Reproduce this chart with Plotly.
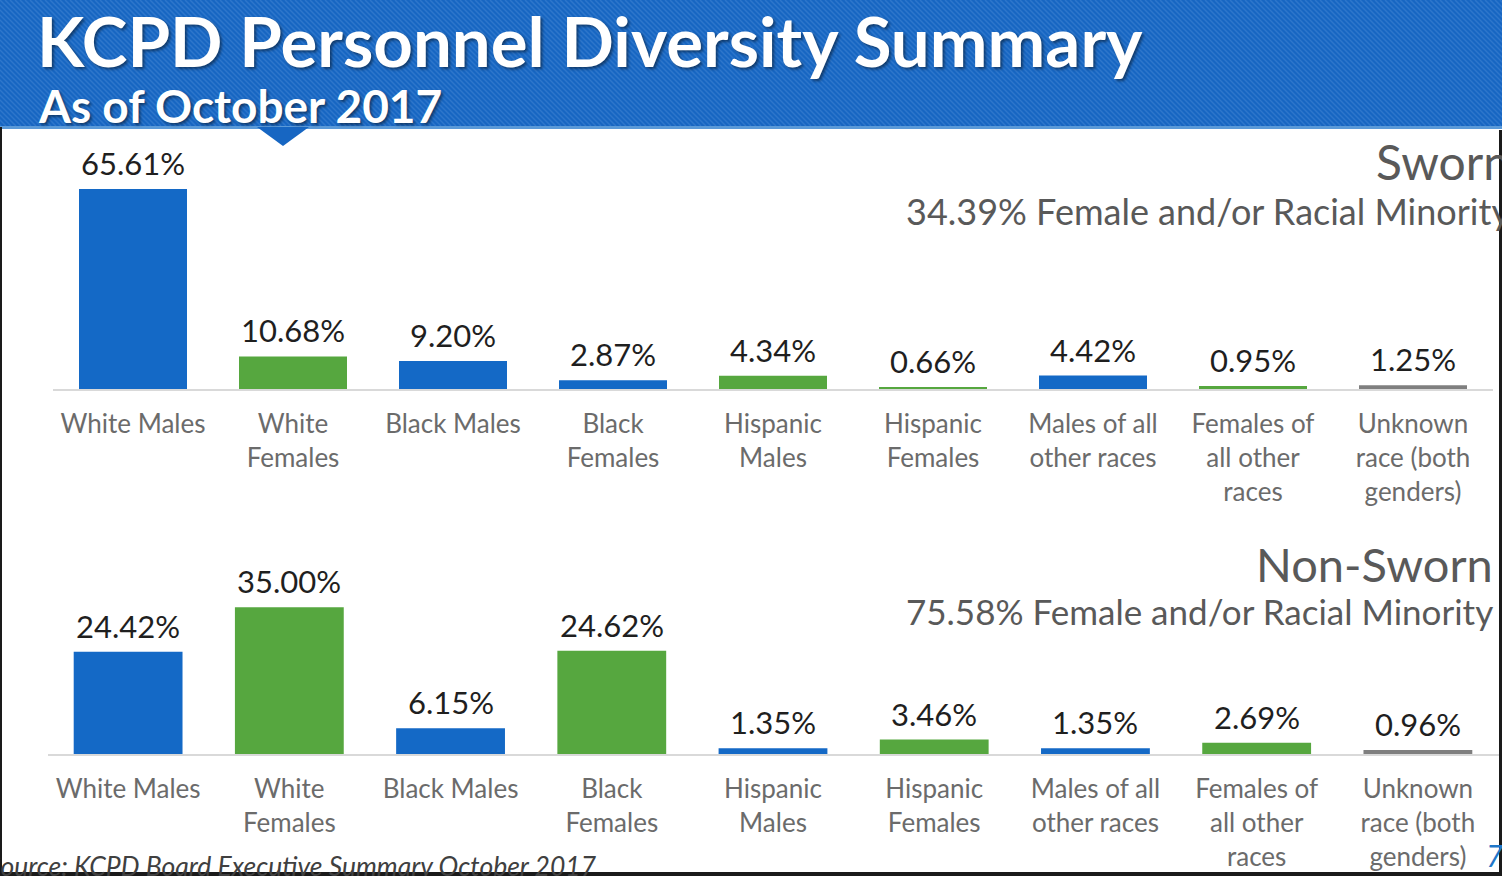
import plotly.graph_objects as go

W, H = 1502, 876

categories = ["White Males", "White<br>Females", "Black Males", "Black<br>Females",
              "Hispanic<br>Males", "Hispanic<br>Females", "Males of all<br>other races",
              "Females of<br>all other<br>races", "Unknown<br>race (both<br>genders)"]
sworn_values = [65.61, 10.68, 9.20, 2.87, 4.34, 0.66, 4.42, 0.95, 1.25]
nonsworn_values = [24.42, 35.00, 6.15, 24.62, 1.35, 3.46, 1.35, 2.69, 0.96]

sworn_title = "Sworn"
sworn_sub = "34.39% Female and/or Racial Minority"
nonsworn_title = "Non-Sworn"
nonsworn_sub = "75.58% Female and/or Racial Minority"

BLUE = "#1469c6"
GREEN = "#56a73f"
GRAY = "#7f7f7f"
sworn_colors = [BLUE, GREEN, BLUE, BLUE, GREEN, GREEN, BLUE, GREEN, GRAY]
nonsworn_colors = [BLUE, GREEN, BLUE, GREEN, BLUE, GREEN, BLUE, GREEN, GRAY]

FONT = "Lato"


def px(x):
    return x / W


def py(y):
    return 1 - y / H


fig = go.Figure()
fig.add_trace(go.Bar(x=categories, y=sworn_values, marker=dict(color=sworn_colors, line=dict(width=0)),
                     xaxis="x", yaxis="y", hoverinfo="x+y"))
fig.add_trace(go.Bar(x=categories, y=nonsworn_values, marker=dict(color=nonsworn_colors, line=dict(width=0)),
                     xaxis="x2", yaxis="y2", hoverinfo="x+y"))

axis_common = dict(showgrid=False, zeroline=False, ticks="", showline=True,
                   linecolor="#d9d9d9", linewidth=2, tickangle=0, range=[-0.5, 8.5],
                   type="category",
                   tickfont=dict(family=FONT, size=26, color="#6b6b6b"))

fig.update_layout(
    width=W, height=H, margin=dict(l=0, r=0, t=0, b=0),
    paper_bgcolor="white", plot_bgcolor="rgba(0,0,0,0)",
    showlegend=False, bargap=0.325,
    xaxis=dict(domain=[px(53), px(1493)], anchor="y", ticklabelstandoff=11, **axis_common),
    yaxis=dict(domain=[py(389), py(150)], range=[0, 239 / 3.05], visible=False, anchor="x"),
    xaxis2=dict(domain=[px(47.5), px(1498.5)], anchor="y2", ticklabelstandoff=11, **axis_common),
    yaxis2=dict(domain=[py(754), py(560)], range=[0, 194 / 4.19], visible=False, anchor="x2"),
)

shapes = []
shapes.append(dict(type="rect", xref="paper", yref="paper", x0=0, x1=1, y0=py(126), y1=1,
                   fillcolor="#1766c2", line=dict(width=0), layer="below"))
path = ""
for x in range(-130, W + 10, 5):
    path += f"M{px(x):.5f},{py(0):.5f} L{px(x + 126):.5f},{py(126):.5f} "
shapes.append(dict(type="path", xref="paper", yref="paper", path=path,
                   line=dict(color="rgba(90,150,220,0.35)", width=1.5), layer="below"))
shapes.append(dict(type="rect", xref="paper", yref="paper", x0=0, x1=1, y0=py(129), y1=py(126),
                   fillcolor="#5b9ad8", line=dict(width=0), layer="below"))
shapes.append(dict(type="path", xref="paper", yref="paper",
                   path=f"M{px(257)},{py(127)} L{px(309)},{py(127)} L{px(283)},{py(146)} Z",
                   fillcolor="#1766c2", line=dict(width=0), layer="below"))
shapes.append(dict(type="rect", xref="paper", yref="paper", x0=0, x1=px(2), y0=0, y1=py(127),
                   fillcolor="#1a1a1a", line=dict(width=0)))
shapes.append(dict(type="rect", xref="paper", yref="paper", x0=px(1499), x1=1, y0=0, y1=py(130),
                   fillcolor="#1a1a1a", line=dict(width=0)))
shapes.append(dict(type="rect", xref="paper", yref="paper", x0=0, x1=1, y0=0, y1=py(872),
                   fillcolor="#1a1a1a", line=dict(width=0)))
fig.update_layout(shapes=shapes)

ann = []
# value labels, anchored to data coordinates
for xa, ya, vals in (("x", "y", sworn_values), ("x2", "y2", nonsworn_values)):
    for c, v in zip(categories, vals):
        ann.append(dict(xref=xa, yref=ya, x=c, y=v, text=f"{v:.2f}%", showarrow=False,
                        xanchor="center", yanchor="bottom", yshift=5,
                        font=dict(family=FONT, size=31, color="#1f1f1f")))

P = dict(xref="paper", yref="paper", showarrow=False)
ann.append(dict(text="<b>KCPD Personnel Diversity Summary</b>", x=px(35), y=py(40),
                xanchor="left", yanchor="middle", **P,
                font=dict(family=FONT, size=69, color="white", shadow="2px 2px 3px rgba(0,0,0,0.45)")))
ann.append(dict(text="<b>As of October 2017</b>", x=px(36), y=py(105),
                xanchor="left", yanchor="middle", **P,
                font=dict(family=FONT, size=46, color="white", shadow="2px 2px 3px rgba(0,0,0,0.45)")))
ann.append(dict(text=sworn_title, x=px(1512), y=py(162), xanchor="right", yanchor="middle", **P,
                font=dict(family=FONT, size=48, color="#595959")))
ann.append(dict(text=sworn_sub, x=px(1512), y=py(211), xanchor="right", yanchor="middle", **P,
                font=dict(family=FONT, size=36, color="#595959")))
ann.append(dict(text=nonsworn_title, x=px(1495), y=py(564), xanchor="right", yanchor="middle", **P,
                font=dict(family=FONT, size=47, color="#595959")))
ann.append(dict(text=nonsworn_sub, x=px(1495), y=py(611), xanchor="right", yanchor="middle", **P,
                font=dict(family=FONT, size=35, color="#595959")))
ann.append(dict(text="<i>Source: KCPD Board Executive Summary October 2017</i>", x=px(-15), y=py(866),
                xanchor="left", yanchor="middle", **P,
                font=dict(family=FONT, size=26.5, color="#404040")))
ann.append(dict(text="<i>7</i>", x=px(1484), y=py(855), xanchor="left", yanchor="middle", **P,
                font=dict(family=FONT, size=30, color="#1f77c9")))
fig.update_layout(annotations=ann)

fig.write_html("out.html", config={"displayModeBar": False},
               post_script="document.body.style.margin='0';document.body.style.overflow='hidden';")
